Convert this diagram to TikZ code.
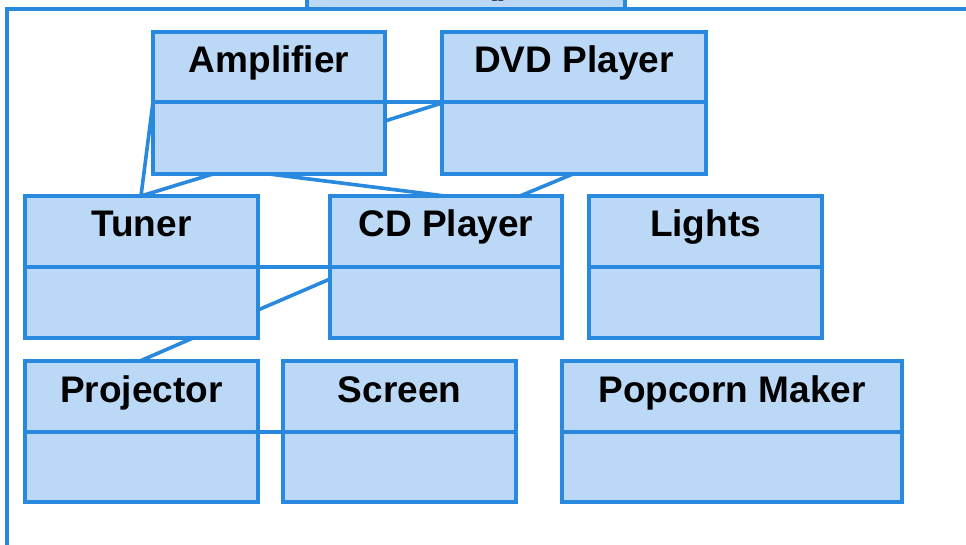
\documentclass[tikz,border=0pt]{standalone}
\usepackage{fontspec}
\setmainfont{Liberation Sans}
\usetikzlibrary{calc}
\definecolor{umlline}{RGB}{40,137,222}
\definecolor{umlfill}{RGB}{187,217,246}
\tikzset{
  compart/.style={draw=umlline, fill=umlfill, line width=3.6pt, rectangle, inner sep=0pt, outer sep=0pt},
  lbl/.style={font=\fontsize{37}{40}\selectfont\bfseries, text=black, inner sep=0pt, anchor=base},
  conn/.style={draw=umlline, line width=3.6pt},
  frame/.style={draw=umlline, line width=3.6pt},
}
% \umlclass{name}{left}{right}{top}{divider}{bottom}{title}
\newcommand\umlclass[7]{%
  \node[compart, minimum width={#3-#2}, minimum height={#5-#4}] (#1) at ({(#2+#3)/2},{(#4+#5)/2}) {};
  \node[compart, minimum width={#3-#2}, minimum height={#6-#5}] (#1-b) at ({(#2+#3)/2},{(#5+#6)/2}) {};
  \node[lbl] (#1-t) at ({(#2+#3)/2},{#4+41}) {#7};
}
\begin{document}
\begin{tikzpicture}[x=1pt,y=-1pt]
\useasboundingbox (0,0) rectangle (966,545);
\clip (0,0) rectangle (966,545);
\fill[white] (0,0) rectangle (966,545);
% enclosing package frame and its tab
\draw[frame] (7,600) -- (7,9) -- (1000,9);
\node[compart, minimum width=318, minimum height=60] (tab) at (466,-21) {};
\node[lbl] (tab-t) at (498,-6) {()};
% classes
\umlclass{amp}{153}{385}{32}{102}{174}{Amplifier}
\umlclass{dvd}{442}{706}{32}{102}{174}{DVD Player}
\umlclass{tuner}{25}{258}{196}{267}{338}{Tuner}
\umlclass{cd}{330}{562}{196}{267}{338}{CD Player}
\umlclass{lights}{589}{822}{196}{267}{338}{Lights}
\umlclass{proj}{25}{258}{361}{432}{502}{Projector}
\umlclass{screen}{283}{516}{361}{432}{502}{Screen}
\umlclass{pop}{562}{902}{361}{432}{502}{Popcorn Maker}
% connectors
\draw[conn] (amp.south east) -- (dvd.south west);
\draw[conn] ([yshift=-19pt]amp-b.north east) -- ([yshift=-1pt]dvd.south west);
\draw[conn] (amp.south west) -- ([xshift=116pt]tuner.north west);
\draw[conn] ([xshift=60pt]amp-b.south west) -- ([xshift=116pt]tuner.north west);
\draw[conn] ([xshift=116pt]amp-b.south west) -- ([xshift=115pt]cd.north west);
\draw[conn] ([xshift=131pt]dvd-b.south west) -- ([xshift=190pt]cd.north west);
\draw[conn] (tuner.south east) -- (cd.south west);
\draw[conn] ([yshift=-43pt]tuner-b.north east) -- ([yshift=-12pt]cd-b.north west);
\draw[conn] ([xshift=168pt]tuner-b.south west) -- ([xshift=115pt]proj.north west);
\draw[conn] (proj.south east) -- (screen.south west);
\end{tikzpicture}
\end{document}
